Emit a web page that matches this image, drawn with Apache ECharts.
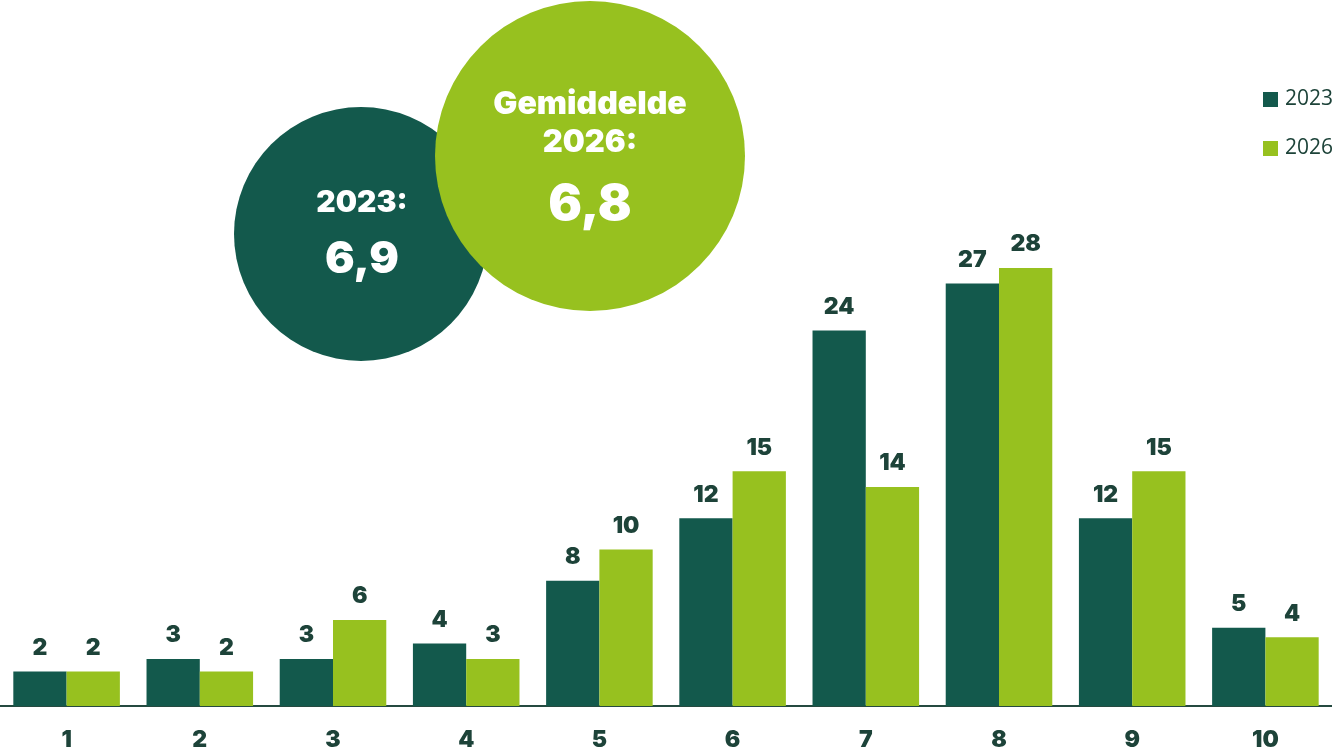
<!DOCTYPE html>
<html>
<head>
<meta charset="utf-8">
<title>Gemiddelde 2023 / 2026</title>
<script src="https://cdn.jsdelivr.net/npm/echarts@6/dist/echarts.min.js"></script>
<style>
  html, body { margin: 0; padding: 0; background: #fff; }
  #chart { width: 1332px; height: 754px; }
</style>
</head>
<body>
<div id="chart"></div>
<script>
// scores 1 t/m 10
const categories = ['1', '2', '3', '4', '5', '6', '7', '8', '9', '10']
const values2023 = [2.2, 3, 3, 4, 8, 12, 24, 27, 12, 5]
const values2026 = [2.2, 2.2, 5.5, 3, 10, 15, 14, 28, 15, 4.4]
const seriesNames = ['2023', '2026']
const averages = ['6,9', '6,8']

const darkGreen = '#13594c'
const lightGreen = '#97c11f'
const textColor = '#1d4339'
const fontFam = 'Inter, "Noto Sans", sans-serif'

const chart = echarts.init(document.getElementById('chart'))

const barLabel = {
  show: true,
  position: 'top',
  distance: 12,
  color: textColor,
  fontSize: 23,
  fontWeight: 900,
  fontFamily: fontFam,
  formatter: (p) => Math.round(p.value)
}

chart.setOption({
  animation: false,
  grid: { left: 0, right: 0, top: 2, bottom: 48 },
  legend: {
    orient: 'vertical',
    left: 1258,
    top: 84,
    itemWidth: 15,
    itemHeight: 15,
    itemGap: 28,
    icon: 'rect',
    textStyle: { color: textColor, fontSize: 21, fontFamily: '"Open Sans", sans-serif', padding: [0, 0, 0, 2] },
    data: seriesNames
  },
  xAxis: {
    type: 'category',
    data: categories,
    axisTick: { show: false },
    axisLine: { lineStyle: { color: '#254a40', width: 2 } },
    axisLabel: {
      margin: 23,
      color: textColor,
      fontSize: 23,
      fontWeight: 900,
      fontFamily: fontFam
    }
  },
  yAxis: {
    type: 'value',
    min: 0,
    max: 45,
    show: false,
    splitLine: { show: false }
  },
  series: [
    {
      name: seriesNames[0],
      type: 'bar',
      data: values2023,
      barGap: 0,
      barCategoryGap: '20%',
      itemStyle: { color: darkGreen },
      label: barLabel
    },
    {
      name: seriesNames[1],
      type: 'bar',
      data: values2026,
      itemStyle: { color: lightGreen },
      label: barLabel
    }
  ],
  // gemiddelde-bollen
  graphic: [
    { type: 'circle', shape: { cx: 361, cy: 234, r: 127 }, style: { fill: darkGreen }, z: 10 },
    { type: 'circle', shape: { cx: 590, cy: 156, r: 155 }, style: { fill: lightGreen }, z: 11 },
    {
      type: 'text', z: 12, x: 362, y: 203,
      style: { text: '2023:', fill: '#fff', font: '900 30px ' + fontFam, textAlign: 'center', textVerticalAlign: 'middle' }
    },
    {
      type: 'text', z: 12, x: 362, y: 260,
      style: { text: averages[0], fill: '#fff', font: '900 44px ' + fontFam, textAlign: 'center', textVerticalAlign: 'middle' }
    },
    {
      type: 'text', z: 12, x: 590, y: 104,
      style: { text: 'Gemiddelde', fill: '#fff', font: '900 32px ' + fontFam, textAlign: 'center', textVerticalAlign: 'middle' }
    },
    {
      type: 'text', z: 12, x: 590, y: 143,
      style: { text: '2026:', fill: '#fff', font: '900 31px ' + fontFam, textAlign: 'center', textVerticalAlign: 'middle' }
    },
    {
      type: 'text', z: 12, x: 590, y: 205,
      style: { text: averages[1], fill: '#fff', font: '900 50px ' + fontFam, textAlign: 'center', textVerticalAlign: 'middle' }
    }
  ]
})
</script>
</body>
</html>
